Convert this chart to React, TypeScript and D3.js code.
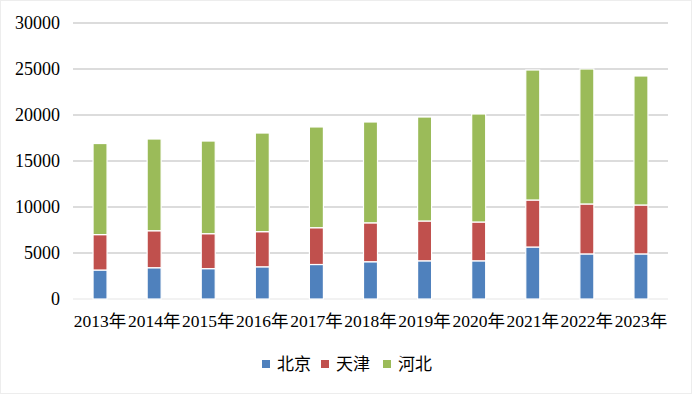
import { useEffect, useRef } from "react";
import * as d3 from "d3";

const years = ["2013年", "2014年", "2015年", "2016年", "2017年", "2018年", "2019年", "2020年", "2021年", "2022年", "2023年"];
const seriesNames = ["北京", "天津", "河北"];
const beijing = [3150, 3400, 3300, 3500, 3750, 4050, 4150, 4150, 5650, 4900, 4900];
const tianjin = [3850, 4020, 3800, 3820, 4000, 4230, 4330, 4220, 5110, 5430, 5320];
const hebei = [9900, 9970, 10070, 10720, 10950, 10960, 11300, 11740, 14130, 14670, 14020];
const yTicks = [0, 5000, 10000, 15000, 20000, 25000, 30000];
const colors = ["#4F81BD", "#C0504D", "#9BBB59"];

const W = 692;
const H = 394;
const FONT = '"Liberation Serif", "DejaVu Serif", "Noto Sans CJK SC"';

export default function App() {
  const svgRef = useRef<SVGSVGElement>(null);

  useEffect(() => {
    if (!svgRef.current) return;
    const svg = d3.select(svgRef.current);
    svg.selectAll("*").remove();

    const margin = { top: 23, right: 24, bottom: 95, left: 73 };
    const width = W - margin.left - margin.right;
    const height = H - margin.top - margin.bottom;

    // faint chart border
    svg.append("rect")
      .attr("x", 0.5).attr("y", 0.5)
      .attr("width", W - 1).attr("height", H - 1)
      .attr("fill", "#fff")
      .attr("stroke", "#ededed");

    const g = svg.append("g").attr("transform", `translate(${margin.left},${margin.top})`);

    const x = d3.scaleBand<string>().domain(years).range([0, width]).padding(0);
    const y = d3.scaleLinear().domain([0, 30000]).range([height, 0]);

    // grid
    g.append("g")
      .selectAll("line")
      .data(yTicks.filter((t) => t > 0))
      .join("line")
      .attr("x1", 0).attr("x2", width)
      .attr("y1", (d) => y(d)).attr("y2", (d) => y(d))
      .attr("stroke", "#d0d0d0")
      .attr("stroke-width", 1.3);

    g.append("line")
      .attr("x1", 0).attr("x2", width)
      .attr("y1", y(0)).attr("y2", y(0))
      .attr("stroke", "#eeeeee")
      .attr("stroke-width", 1.3);

    // y tick labels
    g.append("g")
      .selectAll("text")
      .data(yTicks)
      .join("text")
      .attr("x", -13)
      .attr("y", (d) => y(d))
      .attr("dy", "0.35em")
      .attr("text-anchor", "end")
      .style("font-family", FONT)
      .attr("font-size", 18)
      .attr("fill", "#000")
      .text((d) => String(d));

    // stacked bars
    const table = years.map((yr, i) => ({ year: yr, 北京: beijing[i], 天津: tianjin[i], 河北: hebei[i] }));
    const stacked = d3.stack<any>().keys(seriesNames)(table);
    const barW = 14;

    g.append("g")
      .selectAll("g")
      .data(stacked)
      .join("g")
      .attr("fill", (_, i) => colors[i])
      .selectAll("rect")
      .data((d) => d)
      .join("rect")
      .attr("x", (d) => (x(d.data.year) ?? 0) + x.bandwidth() / 2 - barW / 2)
      .attr("y", (d) => y(d[1]))
      .attr("width", barW)
      .attr("height", (d) => y(d[0]) - y(d[1]))
      .attr("stroke", "#fff")
      .attr("stroke-width", 1.2);

    // x labels
    g.append("g")
      .selectAll("text")
      .data(years)
      .join("text")
      .attr("x", (d) => (x(d) ?? 0) + x.bandwidth() / 2)
      .attr("y", height + 28)
      .attr("text-anchor", "middle")
      .style("font-family", FONT)
      .attr("font-size", 17.5)
      .attr("fill", "#000")
      .text((d) => d);

    // legend
    const legendX = [262, 321, 383];
    const legend = svg.append("g")
      .selectAll("g")
      .data(seriesNames)
      .join("g")
      .attr("transform", (_, i) => `translate(${legendX[i]},364)`);
    legend.append("rect")
      .attr("x", 0).attr("y", -4)
      .attr("width", 8).attr("height", 8)
      .attr("fill", (_, i) => colors[i]);
    legend.append("text")
      .attr("x", 15)
      .attr("dy", "0.35em")
      .style("font-family", FONT)
      .attr("font-size", 17)
      .attr("fill", "#000")
      .text((d) => d);
  }, []);

  return (
    <svg
      ref={svgRef}
      width={W}
      height={H}
      style={{ position: "absolute", left: 0, top: 0 }}
    />
  );
}
